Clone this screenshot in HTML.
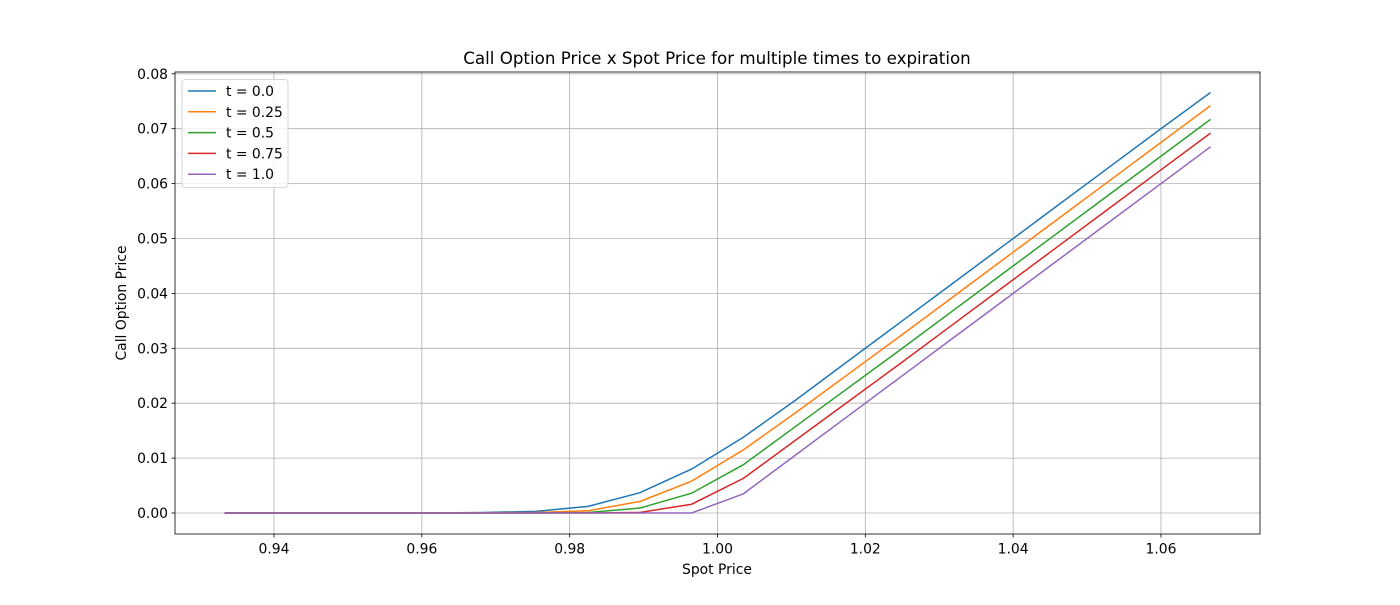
<!DOCTYPE html>
<html><head><meta charset="utf-8"><style>
body{margin:0;background:#fff;}
svg text{font-family:"DejaVu Sans","Liberation Sans",sans-serif;fill:#000;}
</style></head><body>
<svg id="chart" width="1400" height="600" xmlns="http://www.w3.org/2000/svg">
<rect width="1400" height="600" fill="#fff"/>
<g id="grid"></g><g id="series"></g><g id="axes"></g>
</svg>
<script>
const spot = [0.9333,0.9404,0.9474,0.9544,0.9614,0.9684,0.9754,0.9825,0.9895,0.9965,1.0035,1.0105,1.0175,1.0246,1.0316,1.0386,1.0456,1.0526,1.0596,1.0667];
const seriesNames = ["t = 0.0","t = 0.25","t = 0.5","t = 0.75","t = 1.0"];
const t00 = [0,0,0,0,0,0.0001,0.0003,0.0012,0.0037,0.0080,0.0138,0.0205,0.0275,0.0346,0.0416,0.0486,0.0556,0.0626,0.0696,0.0766];
const t025 = [0,0,0,0,0,0.00005,0.0001,0.0004,0.0021,0.0058,0.0115,0.0182,0.0251,0.0321,0.0391,0.0461,0.0531,0.0601,0.0671,0.0742];
const t05 = [0,0,0,0,0,0,0.00003,0.0001,0.0009,0.0036,0.0088,0.0157,0.0226,0.0296,0.0366,0.0436,0.0506,0.0576,0.0646,0.0717];
const t075 = [0,0,0,0,0,0,0,0,0.0001,0.0016,0.0063,0.0132,0.0201,0.0271,0.0341,0.0411,0.0481,0.0551,0.0621,0.0692];
const t10 = [0,0,0,0,0,0,0,0,0,0,0.0035,0.0105,0.0175,0.0246,0.0316,0.0386,0.0456,0.0526,0.0596,0.0667];
const xTicks = [0.94,0.96,0.98,1.00,1.02,1.04,1.06];
const yTicks = [0.00,0.01,0.02,0.03,0.04,0.05,0.06,0.07,0.08];
const colors = ["#1f77b4","#ff7f0e","#2ca02c","#d62728","#9467bd"];
const allSeries = [t00,t025,t05,t075,t10];

const L=175,R=1260,T=72,B=534;
const xs = v => 274 + (v-0.94)/0.02*147.83;
const ys = v => 513 - v/0.01*54.9;
const NS="http://www.w3.org/2000/svg";
function mk(tag,attrs,parent){const e=document.createElementNS(NS,tag);for(const k in attrs)e.setAttribute(k,attrs[k]);parent.appendChild(e);return e;}
const grid=document.getElementById('grid'),ser=document.getElementById('series'),ax=document.getElementById('axes');

xTicks.forEach(v=>{
  const x=xs(v);
  const g=mk('line',{x1:x,x2:x,y1:T,y2:B,stroke:'#b0b0b0','stroke-width':0.8},grid);
  
  
  const t=mk('line',{x1:x,x2:x,y1:B,y2:B+3.5,stroke:'#000','stroke-width':0.8},ax);
  
  
  const l=mk('text',{x:x,y:B+19.5,'text-anchor':'middle','font-size':13.9},ax);
  l.textContent=v.toFixed(2);
  
  
});
yTicks.forEach(v=>{
  const y=ys(v);
  const g=mk('line',{x1:L,x2:R,y1:y,y2:y,stroke:'#b0b0b0','stroke-width':0.8},grid);
  
  
  const t=mk('line',{x1:L-3.5,x2:L,y1:y,y2:y,stroke:'#000','stroke-width':0.8},ax);
  
  
  const l=mk('text',{x:L-7,y:y+5,'text-anchor':'end','font-size':13.9},ax);
  l.textContent=v.toFixed(2);
  
  
});
allSeries.forEach((s,i)=>{
  const p=mk('polyline',{points:s.map((v,j)=>xs(spot[j])+','+ys(v)).join(' '),fill:'none',stroke:colors[i],'stroke-width':1.5},ser);
  
  
});
const fr=mk('rect',{x:L,y:T,width:R-L,height:B-T,fill:'none',stroke:'#000','stroke-width':0.8},ax);


const title=mk('text',{x:717,y:64,'text-anchor':'middle','font-size':16.7},ax);
title.textContent='Call Option Price x Spot Price for multiple times to expiration';


const xt=mk('text',{x:717,y:574,'text-anchor':'middle','font-size':13.9},ax);
xt.textContent='Spot Price';


const yt=mk('text',{x:126,y:303,'text-anchor':'middle','font-size':13.9,transform:'rotate(-90 126 303)'},ax);
yt.textContent='Call Option Price';


const lg=mk('g',{},ax);


mk('rect',{x:182,y:79.5,width:106,height:108,rx:3,fill:'#fff','fill-opacity':0.8,stroke:'#ccc','stroke-width':0.8},lg);
seriesNames.forEach((n,i)=>{
  const y=91+i*20.8;
  const e=mk('g',{},lg);
  
  
  mk('line',{x1:188,x2:216,y1:y,y2:y,stroke:colors[i],'stroke-width':1.5},e);
  const t=mk('text',{x:226,y:y+5,'font-size':13.9},e);
  t.textContent=n;
});
</script>
</body></html>
